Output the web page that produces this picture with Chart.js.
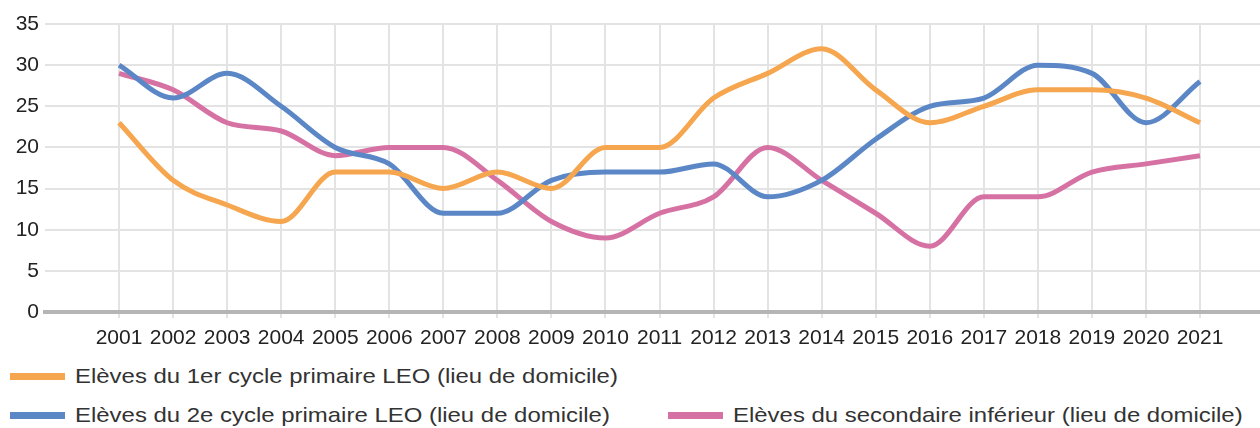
<!DOCTYPE html>
<html lang="fr">
<head>
    <meta charset="UTF-8">
    <title>Elèves (lieu de domicile)</title>
    <style>
        body {
            margin: 0;
            background: #fff;
            font-family: "Liberation Sans", Arial, sans-serif;
        }
        .wrap {
            position: relative;
            width: 1260px;
            height: 428px;
        }
        #legend {
            position: absolute;
            left: 0;
            top: 0;
            width: 1260px;
        }
        .item {
            position: absolute;
            height: 38px;
            display: flex;
            align-items: center;
            font-size: 21px;
            color: #333;
            white-space: nowrap;
        }
        .item .box {
            width: 55px;
            height: 7px;
            margin-right: 10px;
        }
        .item .txt {
            display: inline-block;
            transform: scaleX(1.14);
            transform-origin: left center;
        }
    </style>
</head>
<body>
    <div class="wrap">
        <canvas id="chart" width="1260" height="350"></canvas>
        <div id="legend"></div>
    </div>

    <script src="https://cdn.jsdelivr.net/npm/chart.js"></script>
    <script>
        // années
        const years = [2001, 2002, 2003, 2004, 2005, 2006, 2007, 2008, 2009, 2010, 2011,
                       2012, 2013, 2014, 2015, 2016, 2017, 2018, 2019, 2020, 2021];

        const premierCycle = [23, 16, 13, 11, 17, 17, 15, 17, 15, 20, 20,
                              26, 29, 32, 27, 23, 25, 27, 27, 26, 23];
        const deuxiemeCycle = [30, 26, 29, 25, 20, 18, 12, 12, 16, 17, 17,
                               18, 14, 16, 21, 25, 26, 30, 29, 23, 28];
        const secondaire = [29, 27, 23, 22, 19, 20, 20, 16, 11, 9, 12,
                            14, 20, 16, 12, 8, 14, 14, 17, 18, 19];

        const seriesLabels = [
            'Elèves du 1er cycle primaire LEO (lieu de domicile)',
            'Elèves du 2e cycle primaire LEO (lieu de domicile)',
            'Elèves du secondaire inférieur (lieu de domicile)'
        ];
        const yTicks = [0, 5, 10, 15, 20, 25, 30, 35];

        const colors = ['#f5a64f', '#5b87c6', '#d672a3'];
        const font = { family: "'Liberation Sans', Arial, sans-serif", size: 21 };

        function points(vals) {
            return years.map((yr, i) => ({ x: yr, y: vals[i] }));
        }

        const datasets = [premierCycle, deuxiemeCycle, secondaire].map((vals, i) => ({
            label: seriesLabels[i],
            data: points(vals),
            borderColor: colors[i],
            backgroundColor: colors[i],
            borderWidth: 5,
            pointRadius: 0,
            cubicInterpolationMode: 'monotone',
            fill: false
        }));

        const chart = new Chart(document.getElementById('chart'), {
            type: 'line',
            data: { datasets: datasets },
            options: {
                responsive: false,
                animation: false,
                layout: { padding: { top: 24, right: 0, left: 0, bottom: 0 } },
                plugins: {
                    legend: { display: false },
                    tooltip: { enabled: false }
                },
                scales: {
                    x: {
                        type: 'linear',
                        min: 1999.63,
                        max: 2022.11,
                        afterBuildTicks: scale => {
                            scale.ticks = years.map(v => ({ value: v }));
                        },
                        afterFit: scale => { scale.height = 38; },
                        ticks: {
                            autoSkip: false,
                            maxRotation: 0,
                            padding: 8,
                            color: '#222',
                            font: font,
                            callback: v => String(v)
                        },
                        grid: {
                            color: '#e3e3e3',
                            lineWidth: 2,
                            tickLength: 6
                        },
                        border: { color: '#b5b5b5', width: 4 }
                    },
                    y: {
                        min: 0,
                        max: 35,
                        afterBuildTicks: scale => {
                            scale.ticks = yTicks.map(v => ({ value: v }));
                        },
                        afterFit: scale => { scale.width = 45; },
                        ticks: {
                            padding: 6,
                            color: '#222',
                            font: font
                        },
                        grid: {
                            color: '#e3e3e3',
                            lineWidth: 2,
                            drawTicks: false
                        },
                        border: { display: false }
                    }
                }
            }
        });

        // légende en bas, comme l'original
        const legendPos = [
            { left: 10, top: 357 },
            { left: 10, top: 396 },
            { left: 668, top: 396 }
        ];
        const legend = document.getElementById('legend');
        chart.data.datasets.forEach((ds, i) => {
            const item = document.createElement('div');
            item.className = 'item';
            item.style.left = legendPos[i].left + 'px';
            item.style.top = legendPos[i].top + 'px';
            item.innerHTML = '<span class="box" style="background:' + ds.borderColor + '"></span>' +
                '<span class="txt">' + ds.label + '</span>';
            legend.appendChild(item);
        });
    </script>
</body>
</html>
